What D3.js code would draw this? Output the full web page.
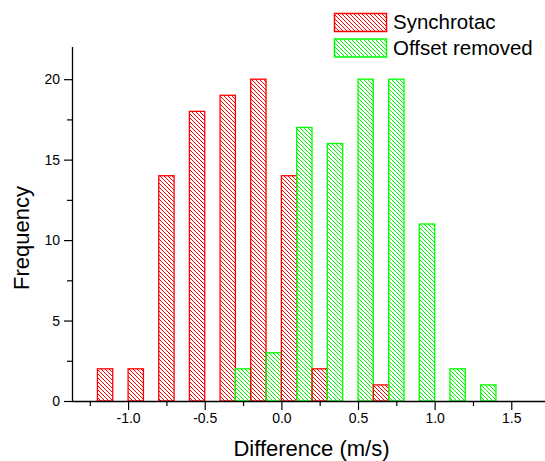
<!DOCTYPE html>
<html>
<head>
<meta charset="utf-8">
<script src="https://cdn.jsdelivr.net/npm/d3@7"></script>
<style>
body { margin: 0; background: #fff; }
svg { display: block; font-family: "Liberation Sans", Arial, sans-serif; }
</style>
</head>
<body>
<svg id="chart" width="545" height="461"></svg>
<script>
// Bin start values (width 0.2); each bin shows red half then green half
const binStarts = [-1.2, -1.0, -0.8, -0.6, -0.4, -0.2, 0.0, 0.2, 0.4, 0.6, 0.8, 1.0, 1.2];
const synchrotac = [2, 2, 14, 18, 19, 20, 14, 2, 0, 1, 0, 0, 0];
const offsetRemoved = [0, 0, 0, 0, 2, 3, 17, 16, 20, 20, 11, 2, 1];
const seriesNames = ["Synchrotac", "Offset removed"];
const seriesColors = ["#ff0000", "#00ff00"];
const xMajorTicks = [-1.0, -0.5, 0.0, 0.5, 1.0, 1.5];
const xMinorTicks = [-1.25, -0.75, -0.25, 0.25, 0.75, 1.25, 1.75];
const yMajorTicks = [0, 5, 10, 15, 20];
const yMinorTicks = [2.5, 7.5, 12.5, 17.5];

const svg = d3.select("#chart");
const x = d3.scaleLinear().domain([-1.366, 1.72]).range([72, 545]);
const y = d3.scaleLinear().domain([0, 22]).range([401, 47]);
const halfW = 0.1;

const defs = svg.append("defs");
seriesColors.forEach((c, i) => {
  const p = defs.append("pattern").attr("id", "hatch" + i)
    .attr("patternUnits", "userSpaceOnUse").attr("width", 4).attr("height", 4);
  p.append("path").attr("d", "M-1,-1 L5,5 M-1,3 L1,5 M3,-1 L5,1")
    .attr("stroke", c).attr("stroke-width", 1).attr("fill", "none");
});

const data = [];
binStarts.forEach((b, i) => {
  data.push({ s: 0, x0: b, v: synchrotac[i] });
  data.push({ s: 1, x0: b + halfW, v: offsetRemoved[i] });
});

svg.append("g").selectAll("rect").data(data.filter(d => d.v > 0)).join("rect")
  .attr("x", d => x(d.x0))
  .attr("width", d => x(d.x0 + halfW) - x(d.x0))
  .attr("y", d => y(d.v))
  .attr("height", d => y(0) - y(d.v))
  .attr("fill", d => "url(#hatch" + d.s + ")")
  .attr("stroke", d => seriesColors[d.s])
  .attr("stroke-width", 1.3);

const fmt = d => d3.format(".1f")(d).replace("−", "-");

// Axes
const xAxis = svg.append("g").attr("transform", "translate(0,401)");
xAxis.call(d3.axisBottom(x).tickValues(xMajorTicks).tickSize(9).tickPadding(3).tickFormat(fmt));
const xMinor = svg.append("g").attr("transform", "translate(0,401)");
xMinor.call(d3.axisBottom(x).tickValues(xMinorTicks).tickSize(5).tickFormat(""));
xMinor.select(".domain").remove();

const yAxis = svg.append("g").attr("transform", "translate(72,0)");
yAxis.call(d3.axisLeft(y).tickValues(yMajorTicks).tickSize(8).tickPadding(4));
const yMinor = svg.append("g").attr("transform", "translate(72,0)");
yMinor.call(d3.axisLeft(y).tickValues(yMinorTicks).tickSize(5).tickFormat(""));
yMinor.select(".domain").remove();

svg.selectAll(".domain").attr("stroke", "#000").attr("stroke-width", 1.3);
xAxis.select(".domain").attr("d", `M72,0.5H545`);
yAxis.select(".domain").attr("d", `M0.5,${y(0)}V47`);
svg.selectAll(".tick line").attr("stroke", "#000").attr("stroke-width", 1.2);
svg.selectAll(".tick text").attr("font-size", 14).attr("fill", "#000")
  .attr("font-family", "Liberation Sans, Arial, sans-serif");

svg.append("text").attr("x", 311.5).attr("y", 456).attr("text-anchor", "middle")
  .attr("font-size", 22).text("Difference (m/s)");
svg.append("text").attr("transform", "translate(29,238) rotate(-90)")
  .attr("text-anchor", "middle").attr("font-size", 22).text("Frequency");

// Legend
const leg = svg.append("g");
seriesNames.forEach((n, i) => {
  const yy = 13.5 + i * 25.5;
  leg.append("rect").attr("x", 334.5).attr("y", yy).attr("width", 52).attr("height", 18)
    .attr("fill", "url(#hatch" + i + ")").attr("stroke", seriesColors[i]).attr("stroke-width", 1.5);
  leg.append("text").attr("x", 393).attr("y", yy + 15.5).attr("font-size", 20.5).text(n);
});
</script>
</body>
</html>
